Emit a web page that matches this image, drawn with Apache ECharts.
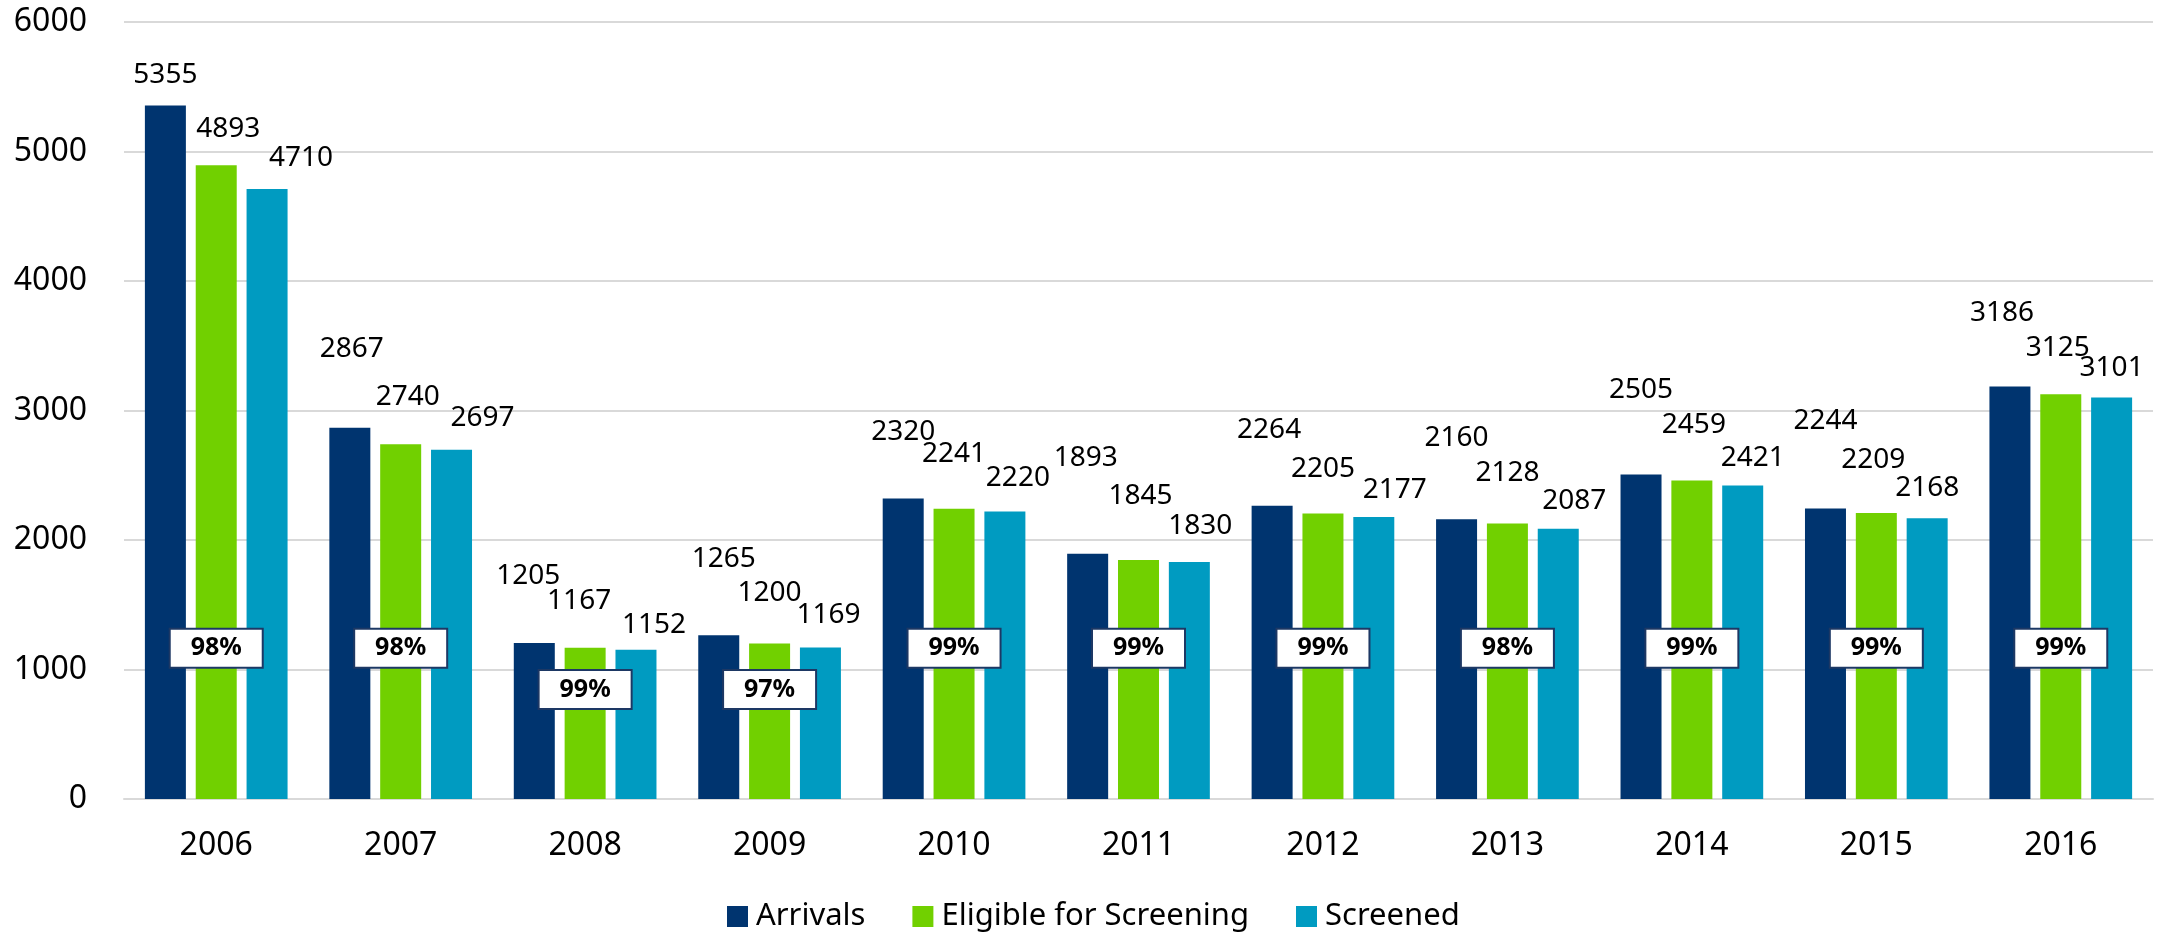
<!DOCTYPE html>
<html>
<head>
<meta charset="utf-8">
<title>Arrivals and screening</title>
<script src="https://cdn.jsdelivr.net/npm/echarts@6/dist/echarts.min.js"></script>
<style>
  html, body { margin: 0; padding: 0; background: #fff; }
  #chart { width: 2160px; height: 933px; }
</style>
</head>
<body>
<div id="chart"></div>
<script>
// values
const years = ['2006', '2007', '2008', '2009', '2010', '2011', '2012', '2013', '2014', '2015', '2016']
const arrivals = [5355, 2867, 1205, 1265, 2320, 1893, 2264, 2160, 2505, 2244, 3186]
const eligible = [4893, 2740, 1167, 1200, 2241, 1845, 2205, 2128, 2459, 2209, 3125]
const screened = [4710, 2697, 1152, 1169, 2220, 1830, 2177, 2087, 2421, 2168, 3101]
const screenedPct = ['98%', '98%', '99%', '97%', '99%', '99%', '99%', '98%', '99%', '99%', '99%']
const yTicks = { min: 0, max: 6000, interval: 1000 }

// layout only: hand placed labels in the original (px from bar top centre)
const arrivalsShift = [[0, -30], [2, -79], [-6, -67], [5, -76], [0, -67], [-2, -96], [-3, -76], [0, -81], [0, -85], [0, -87], [-8, -73]]
const eligibleShift = [[12, -36], [7, -47], [-6, -47], [0, -51], [0, -55], [2, -64], [0, -44], [0, -50], [2, -56], [-3, -53], [-3, -46]]
const screenedShift = [[34, -31], [31, -32], [18, -25], [8, -33], [13, -33], [11, -36], [21, -27], [16, -28], [10, -27], [0, -30], [0, -29]]
// height (in axis units) where the % boxes sit
const pctBoxLevel = [1165, 1165, 845, 845, 1165, 1165, 1165, 1165, 1165, 1165, 1165]

const font = '"Noto Sans", "Open Sans", sans-serif'

function barSeries(name, values, color, shifts) {
  return {
    name: name,
    type: 'bar',
    barWidth: 41,
    barGap: '24%',
    itemStyle: { color: color },
    label: {
      show: true,
      position: 'top',
      distance: 0,
      align: 'center',
      verticalAlign: 'middle',
      fontFamily: font,
      fontSize: 28,
      color: '#000'
    },
    data: values.map((v, i) => ({ value: v, label: { offset: shifts[i] } }))
  }
}

const chart = echarts.init(document.getElementById('chart'))
chart.setOption({
  animation: false,
  backgroundColor: '#fff',
  grid: { left: 124, right: 7, top: 22, bottom: 134 },
  legend: {
    data: ['Arrivals', 'Eligible for Screening', 'Screened'],
    left: 722,
    top: 896,
    itemWidth: 21,
    itemHeight: 21,
    itemGap: 47,
    icon: 'rect',
    textStyle: { fontFamily: font, fontSize: 31, color: '#000', padding: [0, 0, 0, 3] }
  },
  xAxis: {
    type: 'category',
    data: years,
    axisLine: { lineStyle: { color: '#d9d9d9', width: 2 } },
    axisTick: { show: false },
    axisLabel: { fontFamily: font, fontSize: 32, color: '#000', margin: 31 }
  },
  yAxis: {
    type: 'value',
    min: yTicks.min,
    max: yTicks.max,
    interval: yTicks.interval,
    axisLine: { show: false },
    axisTick: { show: false },
    splitLine: { lineStyle: { color: '#d9d9d9', width: 2 } },
    axisLabel: { fontFamily: font, fontSize: 32, color: '#000', margin: 37, formatter: v => String(v) }
  },
  series: [
    barSeries('Arrivals', arrivals, '#00346f', arrivalsShift),
    barSeries('Eligible for Screening', eligible, '#71d000', eligibleShift),
    barSeries('Screened', screened, '#009bc1', screenedShift),
    {
      name: 'share screened',
      type: 'scatter',
      symbolSize: 1,
      itemStyle: { color: 'rgba(0,0,0,0)', opacity: 1 },
      z: 5,
      silent: true,
      label: {
        show: true,
        position: 'inside',
        formatter: p => screenedPct[p.dataIndex],
        fontFamily: font,
        fontSize: 25,
        fontWeight: 'bold',
        color: '#000',
        opacity: 1,
        backgroundColor: '#ffffff',
        borderColor: '#1d3864',
        borderWidth: 2,
        width: 91,
        height: 37,
        lineHeight: 37,
        align: 'center',
        verticalAlign: 'middle'
      },
      data: pctBoxLevel
    }
  ]
})
</script>
</body>
</html>
